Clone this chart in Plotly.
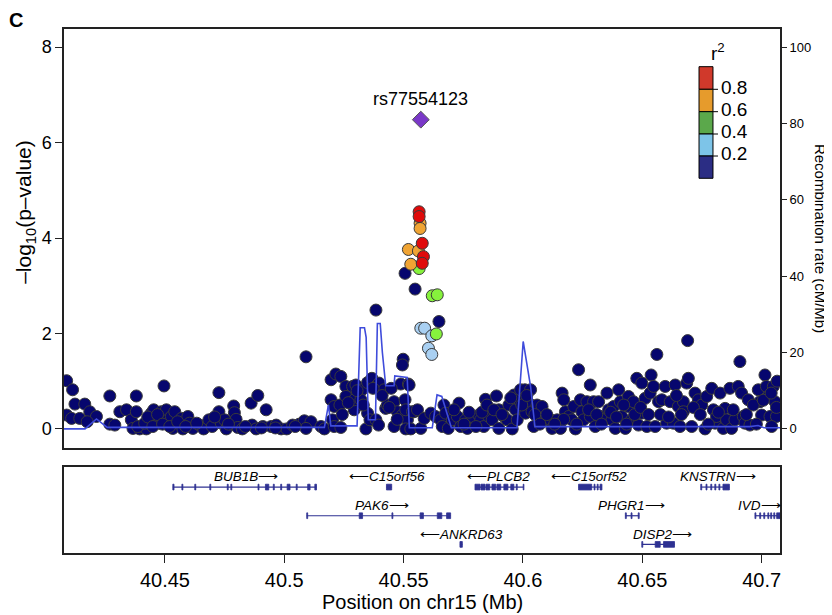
import plotly.graph_objects as go

# ---------------- data ----------------
lead_name = "rs77554123"
lead_pos = [40.5572]
lead_logp = [6.48]

red_pos = [40.5565, 40.5565, 40.5578, 40.5583, 40.5578]
red_logp = [4.55, 4.45, 3.89, 3.61, 3.47]
orange_pos = [40.5569, 40.5569, 40.5520, 40.5562, 40.5530]
orange_logp = [4.31, 4.20, 3.76, 3.73, 3.45]
green_pos = [40.5565, 40.5620, 40.5641, 40.5637]
green_logp = [3.36, 2.79, 2.81, 1.99]
lblue_pos = [40.5572, 40.5588, 40.5618, 40.5604, 40.5618]
lblue_logp = [2.11, 2.11, 1.95, 1.69, 1.56]

navy_pos = [
    40.4088, 40.4113, 40.4123, 40.4164, 40.4088, 40.4109, 40.4143, 40.4185, 40.4213, 40.4174,
    40.4269, 40.4269, 40.4290, 40.4311, 40.4339, 40.4359, 40.4380, 40.4380, 40.4366, 40.4394,
    40.4407, 40.4422, 40.4436, 40.4443, 40.4453, 40.4464, 40.4475, 40.4485, 40.4496, 40.4506,
    40.4512, 40.4527, 40.4533, 40.4541, 40.4569, 40.4575, 40.4596, 40.4603, 40.4617, 40.4645,
    40.4662, 40.4684, 40.4698, 40.4726, 40.4726, 40.4736, 40.4750, 40.4757, 40.4778, 40.4788,
    40.4791, 40.4798, 40.4805, 40.4824, 40.4861, 40.4865, 40.4889, 40.4882, 40.4910, 40.4924,
    40.4945, 40.4966, 40.4987, 40.5010, 40.5035, 40.5063, 40.5091, 40.5084, 40.5112, 40.5091,
    40.5154, 40.5168, 40.5196, 40.5216, 40.5237, 40.5196, 40.5209, 40.5233, 40.5202, 40.5209,
    40.5237, 40.5258, 40.5279, 40.5286, 40.5300, 40.5314, 40.5325, 40.5258, 40.5293, 40.5293,
    40.5321, 40.5342, 40.5349, 40.5359, 40.5349, 40.5367, 40.5390, 40.5397, 40.5384, 40.5395,
    40.5418, 40.5425, 40.5432, 40.5460, 40.5460, 40.5474, 40.5488, 40.5506, 40.5520, 40.5495,
    40.5516, 40.5509, 40.5530, 40.5544,
    40.5523, 40.5509, 40.5537, 40.5558, 40.5572, 40.5586, 40.5614, 40.5634, 40.5655, 40.5669,
    40.5676, 40.5662, 40.5687, 40.5704, 40.5725, 40.5732, 40.5739, 40.5760, 40.5767, 40.5787,
    40.5815, 40.5823, 40.5843, 40.5836, 40.5857, 40.5871, 40.5889, 40.5899, 40.5899, 40.5920,
    40.5934, 40.5941, 40.5955, 40.5962, 40.5969, 40.5976, 40.5983, 40.5990, 40.6008, 40.6011,
    40.6032, 40.6024, 40.6038, 40.6045, 40.6059, 40.6080, 40.6094, 40.6115, 40.6122, 40.6143,
    40.6157, 40.6164, 40.6171, 40.6178, 40.6192, 40.6205, 40.6213, 40.6220, 40.6233, 40.6241,
    40.6247, 40.6254, 40.6268, 40.6282, 40.6282, 40.6296, 40.6303, 40.6317, 40.6324, 40.6338,
    40.6352, 40.6359, 40.6373, 40.6380, 40.6387, 40.6401, 40.6408, 40.6414, 40.6429, 40.6442,
    40.6442, 40.6456, 40.6463, 40.6477, 40.6484, 40.6498, 40.6498, 40.6512, 40.6519, 40.6533,
    40.6537, 40.6547, 40.6554, 40.6561, 40.6568, 40.6582, 40.6596, 40.6602, 40.6617, 40.6630,
    40.6638, 40.6651, 40.6658, 40.6672, 40.6672, 40.6686, 40.6690, 40.6693, 40.6707, 40.6721,
    40.6735, 40.6749, 40.6763, 40.6770, 40.6791, 40.6798, 40.6805, 40.6811, 40.6826, 40.6839,
    40.6847, 40.6853, 40.6867, 40.6874, 40.6888, 40.6909, 40.6902, 40.6916, 40.6923, 40.6930,
    40.6944, 40.6951, 40.6986, 40.6993, 40.7000, 40.7014, 40.7020, 40.7028, 40.7035, 40.7049,
    40.7056, 40.7062, 40.7042,
    40.4386, 40.4415, 40.4428, 40.4449, 40.4469, 40.4490, 40.4520, 40.4553, 40.4587, 40.4633,
    40.4708, 40.4766, 40.4837, 40.4904, 40.4963, 40.5046,
    40.6171, 40.6225, 40.6275, 40.6309, 40.6329, 40.6367, 40.6392, 40.6422, 40.6434, 40.6468,
    40.6493, 40.6526, 40.6576, 40.6610, 40.6643, 40.6664, 40.6714, 40.6743, 40.6777, 40.6819,
    40.6881, 40.6936, 40.6965, 40.6978, 40.7007, 40.7040, 40.7062, 40.7065,
    40.5711, 40.5753, 40.5774, 40.5803, 40.5828, 40.5849, 40.5878, 40.5912, 40.5949, 40.5995,
    40.6016, 40.6050, 40.6071, 40.6100, 40.6133,
    40.5243, 40.5268, 40.5305, 40.5331, 40.5372, 40.5410, 40.5439, 40.5473, 40.5448,
    40.5506, 40.5548, 40.5384, 40.5648, 40.5498, 40.5495,
]
navy_logp = [
    1.01, 0.82, 0.52, 0.52, 0.29, 0.22, 0.22, 0.36, 0.26, 0.15,
    0.69, 0.10, 0.08, 0.36, 0.40, 0.19, 0.69, 0.36, 0.01, 0.00,
    0.05, 0.00, 0.19, 0.33, 0.40, 0.26, 0.12, 0.36, 0.90, 0.40,
    0.19, 0.26, 0.01, 0.36, 0.22, 0.00, 0.26, 0.12, 0.01, 0.08,
    0.00, 0.19, 0.05, 0.76, 0.36, 0.12, 0.19, 0.00, 0.10, 0.48,
    0.34, 0.20, 0.03, 0.00, 0.54, 0.08, 0.70, 0.00, 0.05, 0.40,
    0.05, 0.08, 0.00, 0.00, 0.08, 0.10, 1.51, 0.17, 0.15, 0.01,
    0.05, 0.00, 1.03, 1.15, 1.10, 0.61, 0.47, 0.50, 0.19, 0.05,
    0.03, 0.89, 0.71, 0.89, 0.92, 0.75, 0.82, 0.68, 0.40, 0.61,
    0.61, 0.00, 0.33, 0.19, 0.97, 1.06, 0.92, 0.96, 0.19, 0.08,
    0.82, 0.43, 0.50, 0.57, 0.05, 0.36, 0.94, 0.61, 0.94, 0.29,
    0.19, 0.00, 0.00, 0.36,
    0.92, 0.40, 0.36, 0.40, 0.01, 0.22, 0.33, 0.26, 0.19, 0.50,
    0.33, 0.05, 0.01, 0.19, 0.26, 0.54, 0.05, 0.19, 0.01, 0.26,
    0.29, 0.19, 0.62, 0.05, 0.26, 0.19, 0.69, 0.40, 0.01, 0.26,
    0.19, 0.50, 0.00, 0.71, 0.40, 0.19, 0.61, 0.82, 0.82, 0.33,
    0.82, 0.54, 0.36, 0.05, 0.50, 0.47, 0.19, 0.19, 0.01, 0.19,
    0.01, 0.75, 0.61, 0.36, 0.26, 0.19, 0.47, 0.00, 1.24, 0.61,
    0.36, 0.19, 0.57, 0.92, 0.26, 0.57, 0.05, 0.57, 0.26, 0.19,
    0.75, 0.40, 0.19, 0.47, 0.01, 0.82, 0.57, 0.26, 0.01, 0.68,
    0.47, 0.19, 0.57, 1.06, 0.08, 0.96, 0.33, 0.64, 0.05, 0.75,
    1.13, 0.89, 0.05, 1.56, 0.57, 0.61, 0.89, 0.12, 0.57, 0.12,
    0.92, 0.47, 0.05, 0.57, 0.36, 0.96, 1.85, 1.06, 0.05, 0.75,
    0.61, 0.50, 0.00, 0.68, 0.85, 0.40, 0.12, 0.26, 0.75, 0.01,
    0.43, 0.19, 0.85, 0.01, 0.19, 1.41, 0.89, 0.75, 0.26, 0.12,
    0.61, 0.08, 0.82, 0.57, 0.29, 1.13, 0.89, 0.68, 0.26, 0.89,
    0.57, 0.26, 0.05,
    0.05, 0.12, 0.25, 0.05, 0.30, 0.10, 0.05, 0.15, 0.05, 0.12,
    0.25, 0.10, 0.05, 0.02, 0.02, 0.05,
    0.20, 0.10, 0.40, 0.30, 0.10, 0.35, 0.25, 0.50, 0.10, 0.30,
    0.45, 0.30, 0.30, 0.25, 0.70, 0.30, 0.45, 0.30, 0.10, 0.35,
    0.40, 0.30, 0.50, 0.10, 0.60, 0.75, 0.45, 1.00,
    0.40, 0.10, 0.35, 0.05, 0.35, 0.50, 0.40, 0.30, 0.65, 0.50,
    0.70, 0.30, 0.10, 0.30, 0.10,
    0.30, 0.55, 0.80, 0.50, 0.85, 0.70, 0.45, 0.20, 0.85,
    3.26, 2.93, 2.49, 2.25, 1.46, 1.34,
]

recomb_pos = [40.4077, 40.4165, 40.4213, 40.4258, 40.5160, 40.5168, 40.5185, 40.5195,
              40.5305, 40.5318, 40.5336, 40.5343, 40.5352, 40.5382, 40.5390, 40.5402,
              40.5411, 40.5425, 40.5460, 40.5463, 40.5515, 40.5524, 40.5620, 40.5640,
              40.5660, 40.5700, 40.5975, 40.6001, 40.6032, 40.6050, 40.6600, 40.6950,
              40.6985, 40.7010, 40.7077]
recomb_rate = [0.0, 0.0, 2.6, 0.4, 0.4, 0.4, 6.3, 0.8,
               0.8, 26.5, 26.5, 24.0, 2.4, 2.4, 27.6, 27.6,
               20.0, 11.3, 11.3, 13.9, 13.5, 0.3, 0.3, 8.9,
               8.5, 0.3, 0.3, 22.9, 11.1, 0.6, 0.6, 0.6,
               0.9, 0.3, 0.3]

gene_names = ["BUB1B", "C15orf56", "PLCB2", "C15orf52", "KNSTRN",
              "PAK6", "PHGR1", "IVD", "ANKRD63", "DISP2"]
gene_strand = ["+", "-", "-", "-", "+", "+", "+", "+", "-", "+"]
gene_row = [1, 1, 1, 1, 1, 2, 2, 2, 3, 3]
gene_start = [40.4533, 40.5428, 40.5799, 40.6233, 40.6745,
              40.5094, 40.6429, 40.6972, 40.5736, 40.6498]
gene_end = [40.5135, 40.5450, 40.6004, 40.6331, 40.6865,
            40.5697, 40.6487, 40.7077, 40.5746, 40.6635]
gene_label_x = [40.4840, 40.5432, 40.5899, 40.6275, 40.6819,
                40.5411, 40.6456, 40.6989, 40.5742, 40.6584]
gene_exons = [
    [(40.4533, 40.4538), (40.4571, 40.4575), (40.4625, 40.4629), (40.4688, 40.4692),
     (40.4761, 40.4765), (40.4776, 40.4780), (40.4890, 40.4894), (40.4921, 40.4935),
     (40.4954, 40.4958), (40.4985, 40.4989), (40.5012, 40.5024), (40.5050, 40.5054),
     (40.5098, 40.5108), (40.5128, 40.5135)],
    [(40.5428, 40.5450)],
    [(40.5799, 40.5820), (40.5824, 40.5841), (40.5845, 40.5861), (40.5870, 40.5886),
     (40.5891, 40.5907), (40.5920, 40.5937), (40.5949, 40.5962), (40.5972, 40.5976),
     (40.6001, 40.6004)],
    [(40.6233, 40.6288), (40.6298, 40.6302), (40.6311, 40.6315), (40.6323, 40.6331)],
    [(40.6745, 40.6749), (40.6767, 40.6771), (40.6787, 40.6791), (40.6804, 40.6808),
     (40.6821, 40.6825), (40.6838, 40.6865)],
    [(40.5094, 40.5098), (40.5314, 40.5328), (40.5451, 40.5455), (40.5569, 40.5583),
     (40.5641, 40.5660), (40.5680, 40.5697)],
    [(40.6429, 40.6433), (40.6453, 40.6457), (40.6483, 40.6487)],
    [(40.6972, 40.6976), (40.6992, 40.6996), (40.7009, 40.7013), (40.7026, 40.7030),
     (40.7038, 40.7042), (40.7051, 40.7055), (40.7063, 40.7077)],
    [(40.5736, 40.5746)],
    [(40.6498, 40.6502), (40.6554, 40.6575), (40.6589, 40.6635)],
]

r2_legend_labels = ["0.8", "0.6", "0.4", "0.2"]
r2_legend_colors = ["#D0392B", "#E69B2C", "#5BA84B", "#7DC4E8", "#2B2D84"]

x_ticks = [40.45, 40.5, 40.55, 40.6, 40.65, 40.7]
x_ticktext = ["40.45", "40.5", "40.55", "40.6", "40.65", "40.7"]
y_ticks = [0, 2, 4, 6, 8]
r_ticks = [0, 20, 40, 60, 80, 100]

# ---------------- figure ----------------
FONT = "Liberation Sans, Arial, Helvetica, sans-serif"
GENE_COL = "#2E3192"
fig = go.Figure()

fig.add_trace(go.Scatter(x=recomb_pos, y=recomb_rate, mode="lines", yaxis="y3", xaxis="x",
                         line=dict(color="#3F4CDB", width=1.6), hoverinfo="skip"))

def pts(xs, ys, col, size=12):
    fig.add_trace(go.Scatter(x=xs, y=ys, mode="markers", xaxis="x", yaxis="y",
                             marker=dict(color=col, size=size,
                                         line=dict(color="#3a3a3a", width=1))))

pts(navy_pos, navy_logp, "#06066E")
pts(lblue_pos, lblue_logp, "#A9D0F2")
pts(green_pos, green_logp, "#86F23C")
pts(orange_pos, orange_logp, "#F0A433")
pts(red_pos, red_logp, "#E00A0A")
fig.add_trace(go.Scatter(x=lead_pos, y=lead_logp, mode="markers", xaxis="x", yaxis="y",
                         marker=dict(symbol="diamond", color="#7A38C8", size=13,
                                     line=dict(color="#555", width=1))))

annotations = []
annotations.append(dict(x=lead_pos[0], y=lead_logp[0], xref="x", yref="y", text=lead_name,
                        showarrow=False, yshift=21, xanchor="center", yanchor="middle",
                        font=dict(size=18, family=FONT, color="black")))

# gene track
shapes = []
for i, name in enumerate(gene_names):
    r = gene_row[i]
    fig.add_trace(go.Scatter(x=[gene_start[i], gene_end[i]], y=[r, r], mode="lines",
                             xaxis="x2", yaxis="y2", line=dict(color=GENE_COL, width=1.2),
                             hoverinfo="skip"))
    for (a, b) in gene_exons[i]:
        shapes.append(dict(type="rect", xref="x2", yref="y2", x0=a, x1=b, y0=r - 0.1, y1=r + 0.1,
                           fillcolor=GENE_COL, line=dict(color=GENE_COL, width=0.8)))
    label = (f"<i>{name}</i>⟶" if gene_strand[i] == "+" else f"⟵<i>{name}</i>")
    annotations.append(dict(x=gene_label_x[i], y=r - 0.36, xref="x2", yref="y2", text=label,
                            showarrow=False, xanchor="center", yanchor="middle",
                            font=dict(size=13.5, family=FONT, color="black")))

# r2 legend
edges = [0.9281, 0.8849, 0.8422, 0.7996, 0.7576, 0.7151]
lx0, lx1 = 0.8869, 0.9064
for k, col in enumerate(r2_legend_colors):
    shapes.append(dict(type="rect", xref="paper", yref="paper", x0=lx0, x1=lx1,
                       y0=edges[k + 1], y1=edges[k], fillcolor=col,
                       line=dict(color="black", width=1)))
for k, lab in enumerate(r2_legend_labels):
    yb = edges[k + 1]
    shapes.append(dict(type="line", xref="paper", yref="paper", x0=lx1, x1=lx1 + 0.007,
                       y0=yb, y1=yb, line=dict(color="black", width=1)))
    annotations.append(dict(x=lx1 + 0.009, y=yb + 0.004, xref="paper", yref="paper", text=lab,
                            xanchor="left", yanchor="middle", showarrow=False,
                            font=dict(size=19, family=FONT, color="black")))
annotations.append(dict(x=0.914, y=0.957, xref="paper", yref="paper", text="r<sup>2</sup>",
                        showarrow=False, xanchor="center", yanchor="middle",
                        font=dict(size=19, family=FONT, color="black")))

# titles
annotations.append(dict(x=-0.067, y=1.0172, xref="paper", yref="paper", text="<b>C</b>",
                        showarrow=False, xanchor="center", yanchor="middle",
                        font=dict(size=20, family=FONT, color="black")))
annotations.append(dict(x=-0.0545, y=0.651, xref="paper", yref="paper",
                        text="–log<sub>10</sub>(p–value)", textangle=-90, showarrow=False,
                        xanchor="center", yanchor="middle",
                        font=dict(size=21, family=FONT, color="black")))
annotations.append(dict(x=1.0575, y=0.601, xref="paper", yref="paper",
                        text="Recombination rate (cM/Mb)", textangle=90, showarrow=False,
                        xanchor="center", yanchor="middle",
                        font=dict(size=15, family=FONT, color="black")))
annotations.append(dict(x=0.5, y=-0.0935, xref="paper", yref="paper",
                        text="Position on chr15 (Mb)", showarrow=False,
                        xanchor="center", yanchor="middle",
                        font=dict(size=20, family=FONT, color="black")))

xr = [40.4077, 40.7077]
# the page body adds an 8px offset; margins compensate so the plot area sits where the reference has it
fig.update_layout(
    width=832, height=615,
    margin=dict(l=56, r=60, t=21, b=70, autoexpand=False),
    paper_bgcolor="white", plot_bgcolor="white",
    showlegend=False,
    font=dict(family=FONT, color="black"),
    xaxis=dict(domain=[0, 1], anchor="y", range=xr, showticklabels=False, ticks="",
               showgrid=False, zeroline=False, showline=True, mirror=True,
               linecolor="#222", linewidth=1.5),
    yaxis=dict(domain=[0.2004, 1], anchor="x", range=[-0.4, 8.38], tickvals=y_ticks,
               ticks="outside", ticklen=7, tickwidth=1.2, tickcolor="#222",
               tickfont=dict(size=18), showgrid=False, zeroline=False, showline=True,
               mirror=True, linecolor="#222", linewidth=1.5),
    yaxis3=dict(overlaying="y", side="right", anchor="x", range=[-5, 104.75], tickvals=r_ticks,
                ticks="outside", ticklen=6, tickwidth=1.2, tickcolor="#222",
                tickfont=dict(size=13), showgrid=False, zeroline=False, showline=False),
    xaxis2=dict(domain=[0, 1], anchor="y2", range=xr, tickvals=x_ticks, ticktext=x_ticktext,
                ticks="outside", ticklen=8, tickwidth=1.2, tickcolor="#222",
                tickfont=dict(size=20), showgrid=False, zeroline=False, showline=True,
                mirror=True, linecolor="#222", linewidth=1.5),
    yaxis2=dict(domain=[0, 0.1641], anchor="x2", range=[3.3, 0.3], showticklabels=False,
                ticks="", showgrid=False, zeroline=False, showline=True, mirror=True,
                linecolor="#222", linewidth=1.5),
    shapes=shapes,
    annotations=annotations,
)

fig.write_html("out.html")
